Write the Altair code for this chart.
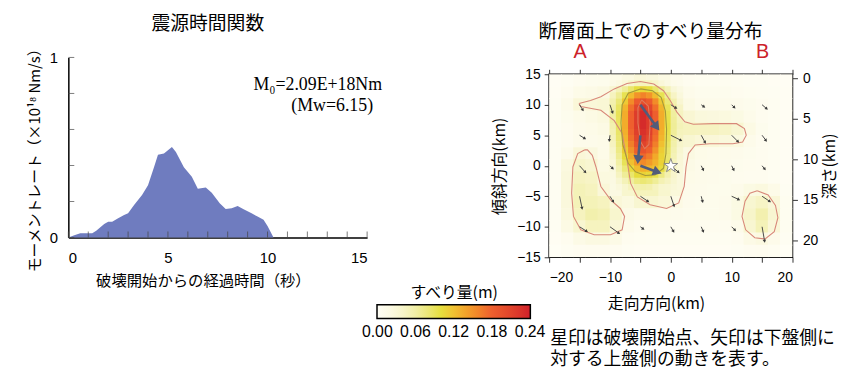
import altair as alt
import pandas as pd

FONT_JP = "Noto Sans CJK JP"
FONT_NUM = "Liberation Sans"

# ---------------- source time function ----------------
stf_time = [0, 0.3, 0.6, 1.2, 1.4, 1.8, 2.0, 2.2, 2.5, 2.8, 3.0, 3.3, 3.7, 4.0, 4.3, 4.5,
            4.8, 5.0, 5.2, 5.4, 5.8, 6.2, 6.5, 6.9, 7.2, 7.6, 7.9, 8.2, 8.5, 8.8, 9.2,
            9.5, 9.8, 10.0, 10.3]
stf_rate = [0, 0.012, 0.024, 0.024, 0.037, 0.075, 0.088, 0.088, 0.107, 0.125, 0.134, 0.18,
            0.236, 0.29, 0.39, 0.46, 0.466, 0.484, 0.503, 0.475, 0.39, 0.337, 0.27, 0.278,
            0.249, 0.19, 0.158, 0.162, 0.175, 0.157, 0.134, 0.116, 0.098, 0.064, 0]
stf_xticks = list(range(0, 16))
stf_yticks = [0, 0.2, 0.4, 0.6, 0.8, 1.0]
ann_text = ["M₀=2.09E+18Nm", "(Mw=6.15)"]
ann_t = [15.75, 15.3]
ann_rate = [0.845, 0.73]

# ---------------- slip distribution (cm), coarse 2 km grid ----------------
slip_x = [-19, -17, -15, -13, -11, -9, -7, -5, -3, -1, 1, 3, 5, 7, 9, 11, 13, 15, 17, 19]
slip_y = [14, 12, 10, 8, 6, 4, 2, 0, -2, -4, -6, -8, -10, -12, -14]
slip_cm = [
    [0.2, 0.4, 0.8, 1.0, 1.1, 1.6, 2.4, 3.2, 2.9, 2.0, 1.2, 0.8, 0.6, 0.6, 0.6, 0.5, 0.4, 0.4, 0.3, 0.2],
    [0.3, 0.8, 1.6, 1.8, 2.3, 3.6, 7.5, 11.5, 10, 5.5, 2.4, 1.4, 1.0, 1.0, 1.0, 0.8, 0.6, 0.5, 0.4, 0.3],
    [0.4, 1.4, 3.2, 3.2, 3.4, 5.5, 13, 19.5, 17, 10, 3.8, 2.0, 1.4, 1.4, 1.4, 1.2, 1.0, 0.8, 0.5, 0.3],
    [0.4, 1.0, 1.6, 2.0, 2.6, 6, 14.5, 23, 20, 11, 5, 3.5, 3, 2.8, 2.6, 2.2, 1.4, 0.8, 0.5, 0.3],
    [0.4, 0.8, 1.3, 1.6, 2.1, 5.5, 14.5, 23, 20, 11, 5.5, 4.6, 4.5, 4.5, 4.2, 3.6, 2.0, 1.0, 0.5, 0.3],
    [0.4, 0.8, 1.4, 1.4, 1.6, 5, 14, 22, 19, 10.5, 4.5, 3.6, 3.2, 3.2, 3, 2.6, 1.4, 0.8, 0.5, 0.3],
    [0.4, 1.4, 3.2, 2.8, 1.6, 4.5, 13, 18, 15.5, 10, 3.8, 2.3, 1.6, 1.4, 1.4, 1.2, 1.0, 0.8, 0.5, 0.3],
    [0.4, 2.6, 4, 3.6, 2.0, 3.5, 10, 14, 12.5, 8, 3.2, 1.8, 1.4, 1.3, 1.2, 1.0, 0.9, 0.8, 0.5, 0.3],
    [0.4, 3, 4.5, 4.2, 2.6, 2.6, 5.5, 8, 8, 5, 3.2, 1.6, 1.3, 1.2, 1.1, 0.9, 0.8, 0.8, 0.5, 0.3],
    [0.4, 3, 5, 4.6, 3.2, 2.3, 3.8, 4.8, 4.8, 3.8, 3.1, 1.4, 1.2, 1.1, 1.1, 1.3, 2.2, 2.6, 1.6, 0.4],
    [0.4, 3, 5, 5, 4.6, 3.2, 2.6, 3.6, 3.6, 3.2, 2.0, 1.2, 1.1, 1.1, 1.2, 2.2, 3.6, 4.2, 3.2, 0.6],
    [0.4, 2.6, 4.6, 5.6, 5.2, 3.8, 1.8, 1.4, 1.4, 1.3, 1.2, 1.1, 1.1, 1.1, 1.2, 2.2, 4, 5.5, 3.6, 0.6],
    [0.4, 2, 3.6, 4.6, 4.6, 3.2, 1.4, 0.9, 0.8, 0.8, 0.8, 0.8, 0.8, 0.8, 0.8, 1.4, 3.6, 5, 3.2, 0.6],
    [0.3, 0.8, 1.8, 2.4, 2.4, 1.8, 0.8, 0.6, 0.5, 0.5, 0.5, 0.5, 0.5, 0.5, 0.5, 0.8, 1.8, 2.4, 1.4, 0.4],
    [0.1, 0.4, 0.7, 0.8, 0.8, 0.7, 0.4, 0.3, 0.3, 0.3, 0.3, 0.3, 0.3, 0.3, 0.3, 0.4, 0.7, 0.8, 0.5, 0.1],
]

# finer 1 km grid around the main asperity (cm)
fine_x = [-9.5, -8.5, -7.5, -6.5, -5.5, -4.5, -3.5, -2.5, -1.5, -0.5, 0.5, 1.5]
fine_y = [13.5, 12.5, 11.5, 10.5, 9.5, 8.5, 7.5, 6.5, 5.5, 4.5, 3.5, 2.5, 1.5, 0.5, -0.5, -1.5, -2.5, -3.5]
fine_cm = [
    [1.8, 2.4, 3.2, 4.0, 4.6, 4.8, 4.6, 4.0, 3.2, 2.4, 1.6, 1.2],
    [3.6, 5.0, 6.6, 8.4, 10.0, 10.7, 10.0, 8.4, 6.6, 5.0, 3.3, 2.3],
    [4.6, 6.7, 9.4, 12.4, 14.9, 15.9, 14.9, 12.4, 9.4, 6.7, 4.3, 3.0],
    [5.5, 8.0, 11.5, 15.4, 18.5, 19.8, 18.5, 15.4, 11.5, 8.0, 5.5, 3.5],
    [6.0, 8.8, 12.8, 17.1, 20.6, 22.1, 20.6, 17.1, 12.8, 9.0, 6.0, 4.2],
    [6.2, 9.2, 13.4, 18.0, 21.7, 23.2, 21.7, 18.0, 13.4, 9.5, 6.3, 4.5],
    [6.0, 9.0, 13.4, 18.0, 21.7, 23.2, 21.7, 18.0, 13.4, 9.6, 6.5, 4.8],
    [5.5, 8.8, 13.4, 18.0, 21.7, 23.2, 21.7, 18.0, 13.4, 9.7, 6.6, 5.0],
    [5.2, 8.6, 13.2, 17.7, 21.3, 22.7, 21.3, 17.7, 13.2, 9.6, 6.5, 4.8],
    [4.9, 8.3, 12.8, 17.1, 20.6, 22.1, 20.6, 17.1, 12.8, 9.3, 6.1, 4.5],
    [4.5, 7.9, 12.2, 16.2, 19.6, 21.0, 19.6, 16.2, 12.2, 8.9, 5.7, 4.0],
    [4.0, 7.4, 11.3, 15.0, 18.0, 19.3, 18.0, 15.0, 11.3, 8.4, 5.4, 3.6],
    [3.6, 6.8, 10.3, 13.6, 16.3, 17.5, 16.3, 13.6, 10.8, 8.2, 5.1, 3.4],
    [3.2, 6.1, 9.2, 12.1, 14.5, 15.5, 14.5, 13.0, 11.0, 8.5, 4.7, 3.2],
    [2.8, 5.3, 7.9, 10.3, 12.4, 13.2, 12.8, 12.0, 10.2, 7.5, 4.3, 3.1],
    [2.5, 4.5, 6.6, 8.4, 10.2, 10.9, 10.5, 9.5, 7.5, 5.5, 3.9, 3.0],
    [2.3, 3.6, 5.0, 6.3, 7.6, 8.1, 7.6, 6.6, 5.2, 4.5, 3.6, 3.0],
    [2.2, 3.0, 3.8, 4.6, 5.5, 5.8, 5.5, 4.6, 3.8, 3.6, 3.3, 3.0],
]

# contour outlines (km)
outer_main = [(-15.1, 10.2), (-13.2, 10.7), (-11.5, 11.3), (-9.3, 12.6), (-7.2, 13.5), (-5.0, 13.8),
              (-2.8, 13.4), (-1.2, 12.3), (-0.1, 10.7), (1.0, 8.8), (2.3, 7.2), (3.7, 6.8),
              (7.0, 6.9), (10.8, 6.9), (12.1, 6.1), (12.4, 5.0), (11.8, 3.9), (10.2, 3.6),
              (6.4, 3.6), (4.0, 3.4), (2.9, 2.0), (2.5, -0.2), (2.2, -3.4), (1.3, -6.1),
              (-0.7, -7.0), (-3.4, -6.4), (-5.5, -5.1), (-6.6, -2.9), (-7.2, 0.9), (-8.0, 5.3),
              (-9.3, 7.4), (-11.5, 9.1), (-13.7, 9.5), (-14.8, 9.7), (-15.1, 10.2)]
outer_left = [(-14.2, 2.6), (-15.3, 2.0), (-16.1, -0.2), (-16.3, -4.5), (-16.0, -8.3), (-14.8, -10.5),
              (-12.6, -11.3), (-9.9, -11.3), (-8.0, -10.5), (-7.6, -8.3), (-8.3, -7.0), (-9.9, -5.6),
              (-11.5, -3.4), (-12.3, -0.2), (-12.9, 1.7), (-13.7, 2.6), (-14.2, 2.6)]
outer_right = [(14.2, -4.1), (16.0, -4.8), (17.2, -6.5), (17.6, -8.5), (17.0, -10.8), (15.5, -12.0),
               (13.8, -11.8), (12.3, -10.5), (11.7, -8.3), (12.2, -5.8), (13.0, -4.5), (14.2, -4.1)]
mid_main = [(-5.0, 12.6), (-3.0, 12.3), (-1.6, 11.2), (-0.9, 9.0), (-0.7, 6.0), (-0.8, 2.0),
            (-1.2, -0.4), (-2.6, -1.5), (-4.2, -1.6), (-5.8, -1.0), (-7.0, 0.4), (-7.9, 3.5),
            (-8.2, 7.0), (-8.0, 10.0), (-7.0, 11.9), (-5.0, 12.6)]
inner_main = [(-4.8, 10.8), (-3.7, 9.8), (-3.4, 7.0), (-3.6, 3.5), (-4.3, 2.8), (-5.0, 4.0),
              (-5.4, 7.0), (-5.4, 9.5), (-4.8, 10.8)]

# slip vectors: start point (km) and displacement (km on plot)
arrow_x0 = [-15, -10, -5, 0, 5, 10, 15] * 5
arrow_y0 = [10] * 7 + [5] * 7 + [0] * 7 + [-5] * 7 + [-10] * 7
arrow_dx = [0.5, 0.4, 2.8, 0.8, 0.4, 0.4, 0.7,
            0.8, -0.1, -0.4, 1.6, 0.6, 1.0, 0.6,
            0.9, 0.4, 3.0, 1.2, 0.3, 0.3, 0.4,
            0.4, 0.5, 1.2, 0.5, 0.2, 1.1, 1.2,
            1.1, 1.4, 0.4, 0.4, 0.3, 0.5, 0.4]
arrow_dy = [-0.8, -1.2, -3.8, -0.5, -0.3, -0.4, -0.6,
            -0.5, -0.8, -4.2, -0.8, -1.1, -1.0, -0.8,
            -1.0, -0.4, -1.1, -1.0, -0.6, -0.6, -0.5,
            -1.9, -0.8, -0.8, -1.5, -0.8, -0.5, -0.8,
            -0.7, -1.0, -0.3, -0.7, -0.7, -0.5, -2.3]
star_x = [0]
star_y = [0]

depth_ticks = [0, 5, 10, 15, 20]
top_ticks = [-20, -15, -10, -5, 0, 5, 10, 15, 20]
slip_legend_values = [0, 0.06, 0.12, 0.18, 0.24]

# ---------------- left chart ----------------
LH = 165      # plot height below the shared top line
LUP = 17      # the time-function axis reaches this far above it
stf_df = pd.DataFrame({"t": stf_time, "rate": stf_rate})
sx = alt.Scale(domain=[0, 15], nice=False, zero=False)
sy = alt.Scale(domain=[0, 1], nice=False, range=[LH, -LUP])
lx_axis = alt.Axis(values=[0, 5, 10, 15], ticks=False, grid=False, domainColor="black",
                   domainWidth=1.5, labelFontSize=15, labelPadding=13,
                   title="破壊開始からの経過時間（秒）", titleFontSize=15.5, titlePadding=9, titleX=136)
ly_axis = alt.Axis(values=[0, 1], format="d", ticks=False, grid=False, domainColor="black",
                   domainWidth=1.5, labelFontSize=15, labelPadding=11,
                   title="モーメントレート（×10¹⁸ Nm/s）", titleFontSize=15, titlePadding=7,
                   titleY=83)

area = alt.Chart(stf_df).mark_area(color="#6f7cbf").encode(
    x=alt.X("t:Q", scale=sx, axis=lx_axis), y=alt.Y("rate:Q", scale=sy, axis=ly_axis))
xt = alt.Chart(pd.DataFrame({"t": stf_xticks, "rate": [0] * len(stf_xticks)})).mark_tick(
    orient="vertical", size=6, thickness=1, yOffset=-3, color="#444").encode(
    x=alt.X("t:Q", scale=sx, axis=lx_axis), y=alt.Y("rate:Q", scale=sy, axis=ly_axis))
yt = alt.Chart(pd.DataFrame({"t": [0] * len(stf_yticks), "rate": stf_yticks})).mark_tick(
    orient="horizontal", size=6, thickness=1, xOffset=3, color="#444").encode(
    x=alt.X("t:Q", scale=sx, axis=lx_axis), y=alt.Y("rate:Q", scale=sy, axis=ly_axis))
ann = alt.Chart(pd.DataFrame({"t": ann_t, "rate": ann_rate, "txt": ann_text})).mark_text(
    font="Liberation Serif", fontSize=18, align="right", baseline="middle", color="black").encode(
    x=alt.X("t:Q", scale=sx, axis=lx_axis), y=alt.Y("rate:Q", scale=sy, axis=ly_axis), text="txt:N")

left = alt.layer(area, xt, yt, ann).properties(
    width=302, height=LH,
    title=alt.TitleParams("震源時間関数", font=FONT_JP, fontSize=19, fontWeight="normal",
                          color="black", dx=-10, offset=7),
    view=alt.ViewBackground(stroke=None))

# ---------------- right chart ----------------
rows = []
for j, yv in enumerate(slip_y):
    for i, xv in enumerate(slip_x):
        rows.append({"x": xv, "y": yv, "slip": slip_cm[j][i] / 100.0, "h": 1.05})
for j, yv in enumerate(fine_y):
    for i, xv in enumerate(fine_x):
        rows.append({"x": xv, "y": yv, "slip": fine_cm[j][i] / 100.0, "h": 0.53})
heat_df = pd.DataFrame(rows)

cont_rows = []
for cid, (kind, pts) in enumerate([("outer", outer_main), ("outer", outer_left), ("outer", outer_right),
                                   ("mid", mid_main), ("inner", inner_main)]):
    for k, (px, py) in enumerate(pts):
        cont_rows.append({"id": cid, "kind": kind, "ord": k, "x": px, "y": py})
cont_df = pd.DataFrame(cont_rows)

arrow_df = pd.DataFrame({"x0": arrow_x0, "y0": arrow_y0, "dx": arrow_dx, "dy": arrow_dy})

xs = alt.Scale(domain=[-20, 20], nice=False, zero=False)
ys = alt.Scale(domain=[-15, 15], nice=False, zero=False)
cscale = alt.Scale(domain=[-0.0005, 0.03, 0.06, 0.10, 0.12, 0.15, 0.18, 0.2405],
                   range=["#fffef6", "#faf8dc", "#f1efa6", "#e6df3e", "#f0c232", "#f2922a",
                          "#ee5f2e", "#d11f2a"], clamp=True)

bx_axis = alt.Axis(values=list(range(-20, 21, 5)), tickSize=5, tickColor="#333", domain=False,
                   grid=False, labelFontSize=14, labelPadding=8, title="走向方向(km)",
                   titleFontSize=16, titlePadding=12, titleX=108)
ry_axis = alt.Axis(values=list(range(-15, 16, 5)), tickSize=5, tickColor="#333", domain=False,
                   grid=False, labelFontSize=14, labelPadding=4, title="傾斜方向(km)",
                   titleFontSize=16, titlePadding=9)

heat = alt.Chart(heat_df).transform_calculate(
    xl="datum.x - datum.h", xr="datum.x + datum.h", yb="datum.y - datum.h", yt="datum.y + datum.h"
).mark_rect(clip=True).encode(
    x=alt.X("xl:Q", scale=xs, axis=bx_axis), x2="xr:Q",
    y=alt.Y("yb:Q", scale=ys, axis=ry_axis), y2="yt:Q",
    color=alt.Color("slip:Q", scale=cscale, legend=alt.Legend(
        orient="none", legendX=312, legendY=213, direction="horizontal",
        gradientLength=155, gradientThickness=14, gradientStrokeColor="black",
        gradientStrokeWidth=1.5, title="すべり量(m)", titleFont=FONT_JP, titleFontSize=16,
        titleFontWeight="normal", titleColor="black", titleAnchor="middle", titleOrient="top",
        titlePadding=4, values=slip_legend_values, format=".2f", labelFont=FONT_NUM,
        labelFontSize=16, labelAlign="center", labelOffset=6, labelColor="black",
        labelOverlap=False, padding=0)))

contours = alt.Chart(cont_df).mark_line(clip=True, strokeWidth=1.1).encode(
    x=alt.X("x:Q", scale=xs, axis=bx_axis), y=alt.Y("y:Q", scale=ys, axis=ry_axis),
    detail="id:N", order="ord:Q",
    stroke=alt.Stroke("kind:N", scale=alt.Scale(domain=["outer", "mid", "inner"],
                                                range=["#d8887a", "#a49a3c", "#e07a5a"]),
                      legend=None),
    strokeOpacity=alt.StrokeOpacity("kind:N", scale=alt.Scale(domain=["outer", "mid", "inner"],
                                                              range=[1, 1, 0.5]), legend=None))

arr_base = alt.Chart(arrow_df).transform_calculate(
    len="sqrt(datum.dx*datum.dx + datum.dy*datum.dy)",
    x1="datum.x0 + datum.dx", y1="datum.y0 + datum.dy",
    ang="(atan2(datum.dx, datum.dy) * 180 / PI + 360) % 360")
big = arr_base.transform_filter("datum.len > 2.5").transform_calculate(
    xe="datum.x0 + datum.dx * (1 - 0.6 / datum.len)",
    ye="datum.y0 + datum.dy * (1 - 0.6 / datum.len)",
    xh="datum.x0 + datum.dx * (1 - 0.45 / datum.len)",
    yh="datum.y0 + datum.dy * (1 - 0.45 / datum.len)")
big_shaft = big.mark_rule(strokeWidth=2.6, color="#515c7a").encode(
    x=alt.X("x0:Q", scale=xs, axis=bx_axis), y=alt.Y("y0:Q", scale=ys, axis=ry_axis),
    x2="xe:Q", y2="ye:Q")
big_head = big.mark_point(shape="triangle", filled=True, size=110, color="#515c7a", opacity=1).encode(
    x=alt.X("xh:Q", scale=xs, axis=bx_axis), y=alt.Y("yh:Q", scale=ys, axis=ry_axis),
    angle=alt.Angle("ang:Q", scale=None))
small = arr_base.transform_filter("datum.len <= 2.5")
small_shaft = small.mark_rule(strokeWidth=1, color="#4a4a4a").encode(
    x=alt.X("x0:Q", scale=xs, axis=bx_axis), y=alt.Y("y0:Q", scale=ys, axis=ry_axis),
    x2="x1:Q", y2="y1:Q")
small_head = small.mark_point(shape="triangle", filled=True, size=12, color="#3a3a3a", opacity=1).encode(
    x=alt.X("x1:Q", scale=xs, axis=bx_axis), y=alt.Y("y1:Q", scale=ys, axis=ry_axis),
    angle=alt.Angle("ang:Q", scale=None))

STAR = ("M0,-1L0.2245,-0.309L0.951,-0.309L0.363,0.118L0.588,0.809L0,0.382L-0.588,0.809"
        "L-0.363,0.118L-0.951,-0.309L-0.2245,-0.309Z")
star = alt.Chart(pd.DataFrame({"x": star_x, "y": star_y})).mark_point(
    shape=STAR, size=220, filled=True, fill="white", stroke="#8a8a8a", strokeWidth=1,
    opacity=1).encode(x=alt.X("x:Q", scale=xs, axis=bx_axis), y=alt.Y("y:Q", scale=ys, axis=ry_axis))

inner = alt.layer(heat, contours, small_shaft, small_head, big_shaft, big_head, star)

top_axis = alt.Axis(orient="top", values=top_ticks, tickSize=5, tickColor="#333", domain=False,
                    grid=False, labelExpr="datum.value == -15 ? 'A' : datum.value == 15 ? 'B' : ''",
                    labelColor="#cc2229", labelFontSize=20, labelPadding=8,
                    title="断層面上でのすべり量分布", titleFontSize=19, titleX=102,
                    titlePadding=0)
depth_axis = alt.Axis(orient="right", values=depth_ticks, tickSize=5, tickColor="#333", domain=False,
                      grid=False, labelFontSize=14, labelPadding=5, title="深さ(km)",
                      titleFontSize=16, titleAngle=270, titleBaseline="top", titlePadding=4)
axes_df = pd.DataFrame({"ax": [top_ticks[0], top_ticks[-1]], "depth": [depth_ticks[0], depth_ticks[-1]]})
axes_layer = alt.Chart(axes_df).mark_point(opacity=0).encode(
    x=alt.X("ax:Q", scale=xs, axis=top_axis),
    y=alt.Y("depth:Q", scale=alt.Scale(domain=[-0.49, 22.08], reverse=True, nice=False, zero=False),
            axis=depth_axis))

right = alt.layer(inner, axes_layer).resolve_scale(y="independent").resolve_axis(
    x="independent", y="independent").properties(
    width=246, height=185,
    view=alt.ViewBackground(stroke="black", strokeWidth=1.5),
    title=alt.TitleParams(["星印は破壊開始点、矢印は下盤側に", "対する上盤側の動きを表す。"],
                          orient="bottom", anchor="start", frame="group", font=FONT_JP,
                          fontSize=18, fontWeight="normal", lineHeight=21, color="black",
                          dx=1, offset=19, align="left"))

chart = alt.hconcat(left, right, spacing=109).properties(
    padding={"left": 19, "top": 4, "right": 0, "bottom": 0}
).configure_axis(
    labelFont=FONT_NUM, titleFont=FONT_JP, labelColor="black", titleColor="black",
    titleFontWeight="normal"
)

chart.save("out.html", embed_options={"renderer": "svg", "actions": False})
